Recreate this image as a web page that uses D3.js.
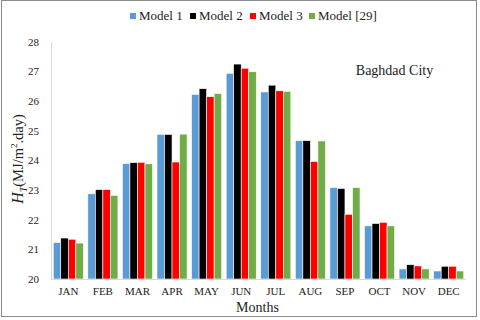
<!DOCTYPE html>
<html>
<head>
<meta charset="utf-8">
<script src="https://cdn.jsdelivr.net/npm/d3@7"></script>
<style>
  body { margin: 0; background: #fff; }
  svg text { font-family: "Liberation Serif", "DejaVu Serif", serif; fill: #222; }
</style>
</head>
<body>
<svg id="chart" width="480" height="320" font-family="Liberation Serif, serif"></svg>
<script>
let months = ['JAN', 'FEB', 'MAR', 'APR', 'MAY', 'JUN', 'JUL', 'AUG', 'SEP', 'OCT', 'NOV', 'DEC']
let seriesNames = ['Model 1', 'Model 2', 'Model 3', 'Model [29]']
let model1 = [21.23, 22.87, 23.89, 24.87, 26.22, 26.93, 26.30, 24.66, 23.08, 21.79, 20.34, 20.27]
let model2 = [21.38, 23.01, 23.92, 24.87, 26.41, 27.24, 26.53, 24.66, 23.05, 21.87, 20.48, 20.43]
let model3 = [21.34, 23.01, 23.93, 23.94, 26.14, 27.10, 26.34, 23.96, 22.18, 21.91, 20.44, 20.43]
let model29 = [21.21, 22.82, 23.88, 24.88, 26.25, 26.98, 26.32, 24.65, 23.08, 21.79, 20.34, 20.27]
let yTicks = [20, 21, 22, 23, 24, 25, 26, 27, 28]

let seriesValues = [model1, model2, model3, model29]
let colors = ['#5b9bd5', '#000000', '#ff0000', '#70ad47']

let svg = d3.select('#chart')

// outer frame
svg.append('rect')
  .attr('x', 1.5).attr('y', 0.5)
  .attr('width', 475).attr('height', 316)
  .attr('fill', 'none').attr('stroke', '#8c8c8c').attr('stroke-width', 1)

let x = d3.scaleBand().domain(months).range([51, 466]).paddingInner(0.13).paddingOuter(0.065)
let xSub = d3.scaleBand().domain(d3.range(4)).range([0, x.bandwidth()])
let y = d3.scaleLinear().domain([20, 28]).range([279, 41.5])

// bars
let groups = svg.selectAll('.grp')
  .data(months)
  .enter().append('g')
  .attr('class', 'grp')
  .attr('transform', function (d) { return 'translate(' + x(d) + ',0)' })

groups.selectAll('rect')
  .data(function (d, i) { return seriesValues.map(function (s, k) { return { k: k, v: s[i] } }) })
  .enter().append('rect')
  .attr('x', function (d) { return xSub(d.k) })
  .attr('width', xSub.bandwidth())
  .attr('y', function (d) { return y(d.v) })
  .attr('height', function (d) { return y(20) - y(d.v) })
  .attr('fill', function (d) { return colors[d.k] })
  .attr('stroke', '#ffffff')
  .attr('stroke-width', 0.6)

// y axis
let yAxis = svg.append('g')
  .attr('transform', 'translate(51,0)')
  .call(d3.axisLeft(y).tickValues(yTicks).tickSize(0).tickPadding(12).tickFormat(d3.format('d')))
yAxis.attr('font-family', null)
yAxis.select('.domain').attr('stroke', '#d9d9d9')
yAxis.selectAll('text').attr('font-size', 11).attr('fill', '#222')

// x axis
let xAxis = svg.append('g')
  .attr('transform', 'translate(0,279)')
  .call(d3.axisBottom(x).tickSize(0).tickPadding(8))
xAxis.attr('font-family', null)
xAxis.select('.domain').attr('stroke', '#d9d9d9').attr('d', 'M51,0.5H466')
xAxis.selectAll('text').attr('font-size', 11).attr('fill', '#222')

// axis titles
svg.append('text')
  .attr('x', 257.5).attr('y', 312)
  .attr('text-anchor', 'middle')
  .attr('font-size', 14)
  .text('Months')

let yl = svg.append('text')
  .attr('transform', 'translate(23,159) rotate(-90)')
  .attr('text-anchor', 'middle')
  .attr('font-size', 14.5)
yl.append('tspan').attr('font-style', 'italic').attr('font-size', 16).text('H')
yl.append('tspan').attr('font-style', 'italic').attr('font-size', 10).attr('dy', 4).text('T')
yl.append('tspan').attr('dy', -4).text('(MJ/m')
yl.append('tspan').attr('font-size', 9).attr('dy', -6).text('2')
yl.append('tspan').attr('dy', 6).text('.day)')

// annotation
svg.append('text')
  .attr('x', 394.5).attr('y', 75)
  .attr('text-anchor', 'middle')
  .attr('font-size', 14)
  .text('Baghdad City')

// legend
let legendX = [130, 190, 250, 309]
let legend = svg.selectAll('.leg')
  .data(seriesNames)
  .enter().append('g')
  .attr('class', 'leg')
  .attr('transform', function (d, i) { return 'translate(' + legendX[i] + ',0)' })
legend.append('rect')
  .attr('x', 0).attr('y', 13)
  .attr('width', 6).attr('height', 6)
  .attr('fill', function (d, i) { return colors[i] })
legend.append('text')
  .attr('x', 9).attr('y', 20)
  .attr('font-size', 13)
  .text(function (d) { return d })
</script>
</body>
</html>
